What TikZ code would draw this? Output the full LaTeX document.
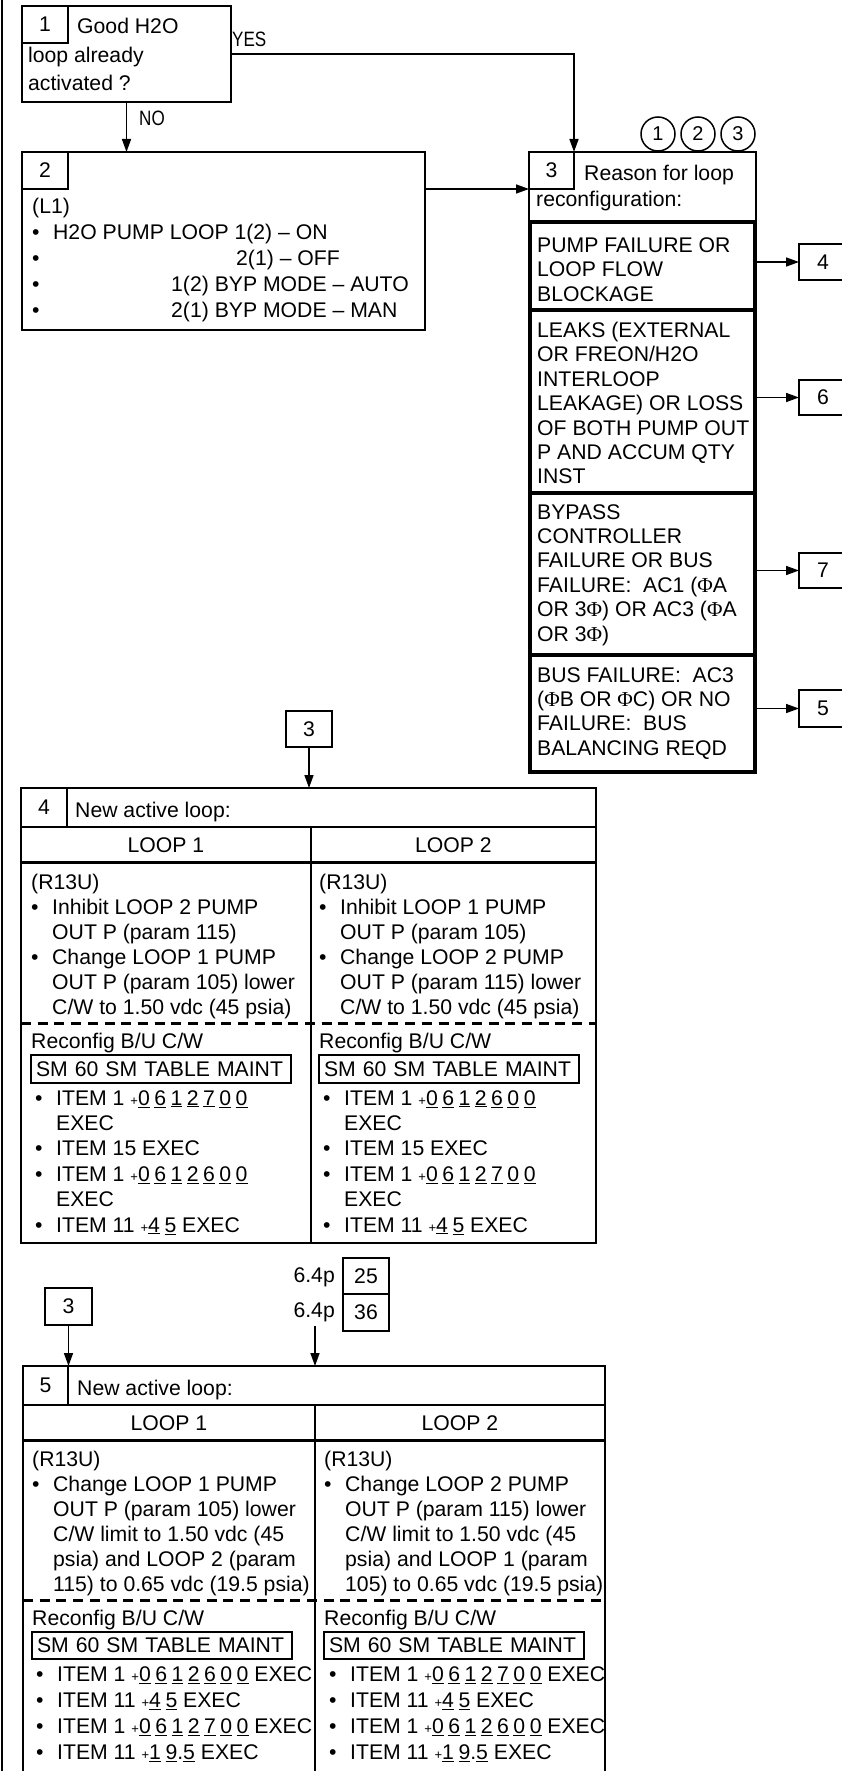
\documentclass[tikz,border=0pt]{standalone}
\usepackage{fontspec}
\setmainfont{Liberation Sans}
\newfontfamily\phifont{Liberation Serif}
\newfontfamily\narrowfont[FakeStretch=0.82]{Liberation Sans}
\usetikzlibrary{arrows.meta}
\newcommand{\Ph}{{\phifont Φ}}
\newcommand{\bl}{\makebox[21pt][l]{\textbullet}}
\newcommand{\ind}{\hspace*{21pt}}
\newcommand{\ud}[1]{\underline{#1}\hspace{4.5pt}}
\newcommand{\pl}{{\fontsize{13}{13}\selectfont+}}
\tikzset{
  box/.style={draw,line width=2pt,anchor=north west,inner sep=0pt,outer sep=0pt},
  numcell/.style={box,minimum width=46pt,minimum height=37pt},
  subbox/.style={box,line width=4pt,minimum width=225pt},
  tagbox/.style={box,minimum width=46pt,minimum height=36pt},
  smbox/.style={box,inner xsep=5pt,text width=250pt,minimum height=28pt},
  txt/.style={inner sep=0pt,anchor=north west,align=left,font=\fontsize{21.2}{#1}\selectfont},
  txt/.default=25,
  lbl/.style={inner sep=0pt,anchor=base west},
  yn/.style={inner sep=0pt,anchor=base west,font=\narrowfont\fontsize{20.8}{25}\selectfont},
  arr/.style={line width=1.6pt,-{Triangle[length=13pt,width=9pt]}},
  rule/.style={line width=3pt},
  every node/.append style={font=\fontsize{21.2}{25}\selectfont},
}
\begin{document}
\begin{tikzpicture}[x=1pt,y=-1pt]
\useasboundingbox (0,0) rectangle (841,1771);
\draw[line width=2pt] (2,0) -- (2,1771);

% block 1
\node[box,minimum width=209pt,minimum height=96pt] (q1) at (22,6) {};
\node[numcell] (n1) at (22,6) {1};
\node[lbl] (q1a) at (77,34) {Good H2O};
\node[txt=27.5] (q1b) at (28,43.5) {\strut loop already\\activated ?};
\node[yn] (yes) at (232,47) {YES};
\node[yn] (no) at (139,126) {NO};

% block 2
\node[box,minimum width=403pt,minimum height=178pt] (q2) at (22,152) {};
\node[numcell] (n2) at (22,152) {2};
\node[txt=26] (q2a) at (32,195.1) {\strut(L1)\\
  \bl H2O PUMP LOOP 1(2) -- ON\\
  \bl\hspace*{183pt}2(1) -- OFF\\
  \bl\hspace*{118pt}1(2) BYP MODE -- AUTO\\
  \bl\hspace*{118pt}2(1) BYP MODE -- MAN};

% block 3
\node[box,minimum width=227pt,minimum height=70pt] (q3) at (529,152) {};
\node[numcell,minimum width=45pt] (n3) at (529,152) {3};
\node[lbl] (q3a) at (584,181) {Reason for loop};
\node[lbl] (q3b) at (536,207) {reconfiguration:};
\foreach \k/\cx in {1/658,2/698,3/738}
  \node[circle,draw,line width=1.5pt,minimum size=34pt,inner sep=0pt,
    font=\fontsize{20}{20}\selectfont] (c\k) at (\cx,134) {\k};
\node[subbox,minimum height=88pt] (s1) at (530,222) {};
\node[subbox,minimum height=183pt] (s2) at (530,310) {};
\node[subbox,minimum height=162pt] (s3) at (530,493) {};
\node[subbox,minimum height=117pt] (s4) at (530,655) {};
\node[txt=24.4] (s1t) at (537,235.2) {\strut PUMP FAILURE OR\\LOOP FLOW\\BLOCKAGE};
\node[txt=24.4] (s2t) at (537,320.3) {\strut LEAKS (EXTERNAL\\OR FREON/H2O\\INTERLOOP\\
  LEAKAGE) OR LOSS\\OF BOTH PUMP OUT\\P AND ACCUM QTY\\INST};
\node[txt=24.4] (s3t) at (537,501.9) {\strut BYPASS\\CONTROLLER\\FAILURE OR BUS\\
  FAILURE:\ \ AC1 (\Ph A\\OR 3\Ph) OR AC3 (\Ph A\\OR 3\Ph)};
\node[txt=24.4] (s4t) at (537,664.9) {\strut BUS FAILURE:\ \ AC3\\(\Ph B OR \Ph C) OR NO\\
  FAILURE:\ \ BUS\\BALANCING REQD};
\node[tagbox,minimum width=48pt] (t4) at (799,244) {4};
\node[tagbox,minimum width=48pt,minimum height=35pt] (t6) at (799,380) {6};
\node[tagbox,minimum width=48pt,minimum height=35pt] (t7) at (799,553) {7};
\node[tagbox,minimum width=48pt,minimum height=37pt] (t5) at (799,690) {5};

\draw[arr] (q1.east) -| (n3.north east);
\draw[arr] (q1.south) -- (q1.south |- q2.north);
\draw[arr] (q2.east |- n3.south) -- (n3.south west);
\draw[arr] (s1.east |- t4) -- (t4);
\draw[arr] (s2.east |- t6) -- (t6);
\draw[arr] (s3.east |- t7) -- (t7);
\draw[arr] (s4.east |- t5) -- (t5);

% block 4
\node[tagbox] (b3a) at (286,711) {3};
\node[box,minimum width=575pt,minimum height=455pt] (q4) at (21,788) {};
\node[numcell,minimum height=39pt] (n4) at (21,788) {4};
\node[lbl] (q4a) at (75,817) {New active loop:};
\draw[line width=2pt] (n4.south east) -- (596,827);
\draw[rule] (21,862) -- (596,862);
\draw[line width=2pt] (311,827) -- (311,1243);
\draw[rule,dash pattern=on 10pt off 6.7pt] (21,1023) -- (596,1023);
\node[lbl,anchor=base] (q4l1) at (166,852) {LOOP 1};
\node[lbl,anchor=base] (q4l2) at (453.5,852) {LOOP 2};
\node[txt] (q4c1) at (31,871.5) {\strut(R13U)\\
  \bl Inhibit LOOP 2 PUMP\\\ind OUT P (param 115)\\
  \bl Change LOOP 1 PUMP\\\ind OUT P (param 105) lower\\\ind C/W to 1.50 vdc (45 psia)};
\node[txt] (q4c2) at (319,871.5) {\strut(R13U)\\
  \bl Inhibit LOOP 1 PUMP\\\ind OUT P (param 105)\\
  \bl Change LOOP 2 PUMP\\\ind OUT P (param 115) lower\\\ind C/W to 1.50 vdc (45 psia)};
\node[lbl] (q4r1) at (31,1048) {Reconfig B/U C/W};
\node[lbl] (q4r2) at (319,1048) {Reconfig B/U C/W};
\node[smbox] (sm4a) at (31,1055) {SM 60 SM TABLE MAINT};
\node[smbox] (sm4b) at (319,1055) {SM 60 SM TABLE MAINT};
\node[txt=25.4] (q4i1) at (35,1087.2) {\strut\bl ITEM 1 \pl\ud0\ud6\ud1\ud2\ud7\ud0\underline{0}\\
  \ind EXEC\\\bl ITEM 15 EXEC\\
  \bl ITEM 1 \pl\ud0\ud6\ud1\ud2\ud6\ud0\underline{0}\\\ind EXEC\\
  \bl ITEM 11 \pl\ud4\underline{5} EXEC};
\node[txt=25.4] (q4i2) at (323,1087.2) {\strut\bl ITEM 1 \pl\ud0\ud6\ud1\ud2\ud6\ud0\underline{0}\\
  \ind EXEC\\\bl ITEM 15 EXEC\\
  \bl ITEM 1 \pl\ud0\ud6\ud1\ud2\ud7\ud0\underline{0}\\\ind EXEC\\
  \bl ITEM 11 \pl\ud4\underline{5} EXEC};
\draw[arr] (b3a.south) -- (b3a.south |- q4.north);

% block 5
\node[tagbox,minimum width=47pt,minimum height=37pt] (b3b) at (45,1288) {3};
\node[tagbox] (p25) at (343,1258) {25};
\node[tagbox,minimum height=37pt] (p36) at (343,1294) {36};
\node[lbl,anchor=base east] (l25) at (335,1282) {6.4p};
\node[lbl,anchor=base east] (l36) at (335,1317) {6.4p};
\coordinate (a36) at (315,1326);
\node[box,minimum width=582pt,minimum height=440pt] (q5) at (23,1366) {};
\node[numcell,minimum width=45pt,minimum height=39pt] (n5) at (23,1366) {5};
\node[lbl] (q5a) at (77,1395) {New active loop:};
\draw[line width=2pt] (n5.south east) -- (605,1405);
\draw[rule] (23,1440) -- (605,1440);
\draw[line width=2pt] (315,1405) -- (315,1806);
\draw[rule,dash pattern=on 10pt off 6.7pt] (23,1600) -- (605,1600);
\node[lbl,anchor=base] (q5l1) at (169,1430) {LOOP 1};
\node[lbl,anchor=base] (q5l2) at (460,1430) {LOOP 2};
\node[txt] (q5c1) at (32,1449.2) {\strut(R13U)\\
  \bl Change LOOP 1 PUMP\\\ind OUT P (param 105) lower\\\ind C/W limit to 1.50 vdc (45\\
  \ind psia) and LOOP 2 (param\\\ind 115) to 0.65 vdc (19.5 psia)};
\node[txt] (q5c2) at (324,1449.2) {\strut(R13U)\\
  \bl Change LOOP 2 PUMP\\\ind OUT P (param 115) lower\\\ind C/W limit to 1.50 vdc (45\\
  \ind psia) and LOOP 1 (param\\\ind 105) to 0.65 vdc (19.5 psia)};
\node[lbl] (q5r1) at (32,1625) {Reconfig B/U C/W};
\node[lbl] (q5r2) at (324,1625) {Reconfig B/U C/W};
\node[smbox,minimum height=27pt] (sm5a) at (32,1632) {SM 60 SM TABLE MAINT};
\node[smbox,minimum height=27pt] (sm5b) at (324,1632) {SM 60 SM TABLE MAINT};
\node[txt=26] (q5i1) at (36,1663.5) {\strut\bl ITEM 1 \pl\ud0\ud6\ud1\ud2\ud6\ud0\underline{0} EXEC\\
  \bl ITEM 11 \pl\ud4\underline{5} EXEC\\
  \bl ITEM 1 \pl\ud0\ud6\ud1\ud2\ud7\ud0\underline{0} EXEC\\
  \bl ITEM 11 \pl\ud1\underline{9}.\underline{5} EXEC};
\node[txt=26] (q5i2) at (329,1663.5) {\strut\bl ITEM 1 \pl\ud0\ud6\ud1\ud2\ud7\ud0\underline{0} EXEC\\
  \bl ITEM 11 \pl\ud4\underline{5} EXEC\\
  \bl ITEM 1 \pl\ud0\ud6\ud1\ud2\ud6\ud0\underline{0} EXEC\\
  \bl ITEM 11 \pl\ud1\underline{9}.\underline{5} EXEC};
\draw[arr] (b3b.south) -- (b3b.south |- q5.north);
\draw[arr] (a36) -- (a36 |- q5.north);
\end{tikzpicture}
\end{document}
